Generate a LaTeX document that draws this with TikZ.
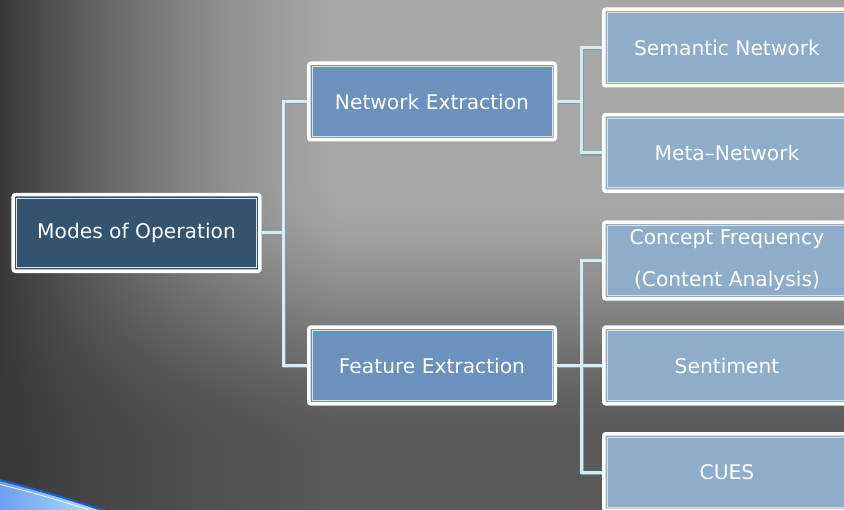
\documentclass[tikz,border=0pt]{standalone}
\usepackage{fontspec}
\setmainfont{DejaVu Sans}
\definecolor{darkbox}{HTML}{34536F}
\definecolor{midbox}{HTML}{6A92BC}
\definecolor{lightbox}{HTML}{8FACCB}
\definecolor{connlight}{HTML}{D6ECF4}
\definecolor{connshadow}{HTML}{8A989E}
\definecolor{swooshblue}{HTML}{1C5FC0}
\definecolor{swooshA}{HTML}{6E9EF2}
\definecolor{swooshB}{HTML}{B5E2FF}
\pgfdeclarelayer{bglayer}
\pgfsetlayers{bglayer,main}
\pgfdeclarefunctionalshading{bgshade}{\pgfpointorigin}{\pgfpoint{844bp}{510bp}}{}{
 exch 340 div dup 1 gt {pop 1} if
 dup 0.5 mul 1.5 exch sub mul
 exch 510 exch sub 180 sub 270 div
 dup 0 lt {pop 0} if dup 1 gt {pop 1} if
 dup dup mul exch 2 mul 3 exch sub mul
 0.7 mul 1 exch sub
 mul 112 mul 56 add 255 div
 dup dup
}
\newcommand\drawconns{%
 \draw (mo.east) -- ++(22bp,0) |- (ne.west);
 \draw (mo.east) -- ++(22bp,0) |- (fe.west);
 \draw (ne.east) -- ++(24bp,0) |- (sn.west);
 \draw (ne.east) -- ++(24bp,0) |- (mn.west);
 \draw (fe.east) -- ++(24bp,0) |- (cf.west);
 \draw (fe.east) -- ++(24bp,0) |- (se.west);
 \draw (fe.east) -- ++(24bp,0) |- (cu.west);
}
\tikzset{
 box/.style={draw=white, line width=3.5bp, rounded corners=2bp,
  minimum width=246.5bp, minimum height=76.5bp, inner sep=0pt,
  text=white, font=\fontsize{20.3}{42}\selectfont, align=center,
  path picture={\draw[white!88!black, line width=0.9bp, sharp corners]
   ([shift={(3.3bp,3.3bp)}]path picture bounding box.south west) rectangle
   ([shift={(-3.3bp,-3.3bp)}]path picture bounding box.north east);}},
 rootbox/.style={box, fill=darkbox},
 midboxs/.style={box, fill=midbox},
 leafbox/.style={box, fill=lightbox},
}
\begin{document}
\begin{tikzpicture}[x=1bp,y=-1bp]
\useasboundingbox (0,0) rectangle (844,510);
\clip (0,0) rectangle (844,510);
\node[rootbox] (mo) at (136.5,233) {Modes of Operation};
\node[midboxs] (ne) at (432,101.5) {Network Extraction};
\node[midboxs] (fe) at (432,365.5) {Feature Extraction};
\node[leafbox] (sn) at (727,47.5) {Semantic Network};
\node[leafbox] (mn) at (727,153) {Meta–Network};
\node[leafbox] (cf) at (727,260.5) {Concept Frequency\\(Content Analysis)};
\node[leafbox] (se) at (727,365.5) {Sentiment};
\node[leafbox] (cu) at (727,472) {CUES};
\begin{pgfonlayer}{bglayer}
 \node[anchor=north west, inner sep=0pt, outer sep=0pt] (bg) at (0,0) {\pgfuseshading{bgshade}};
 \shade[left color=swooshA, right color=swooshB] (0,480) .. controls (35,489) and (70,499) .. (105,511) -- (0,511) -- cycle;
 \draw[swooshblue, line width=2.2bp] (0,480) .. controls (35,489) and (70,499) .. (105,511);
 \draw[white!80!swooshB, line width=0.8bp] (0,484.5) .. controls (35,493) and (65,502) .. (92,511);
 \begin{scope}[transform canvas={shift={(1.3bp,-1.3bp)}}, connshadow, line width=3bp, line join=miter]
  \drawconns
 \end{scope}
 \begin{scope}[connlight, line width=3bp, line join=miter]
  \drawconns
 \end{scope}
\end{pgfonlayer}
\end{tikzpicture}
\end{document}
